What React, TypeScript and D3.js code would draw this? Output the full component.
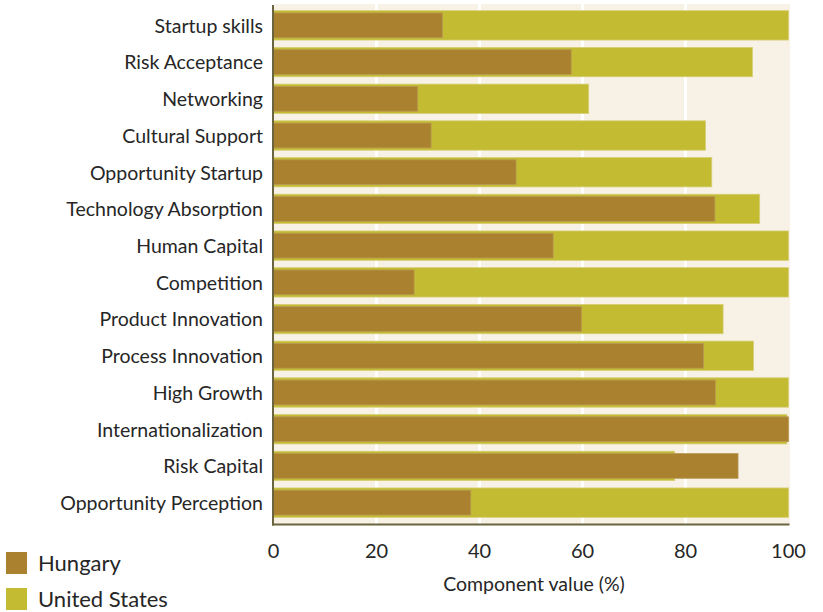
import React from "react";
import * as d3 from "d3";

const categories = [
  "Startup skills",
  "Risk Acceptance",
  "Networking",
  "Cultural Support",
  "Opportunity Startup",
  "Technology Absorption",
  "Human Capital",
  "Competition",
  "Product Innovation",
  "Process Innovation",
  "High Growth",
  "Internationalization",
  "Risk Capital",
  "Opportunity Perception",
];

const hungary = [32.8, 57.8, 28.0, 30.6, 47.1, 85.7, 54.3, 27.3, 59.8, 83.5, 85.8, 100, 90.2, 38.3];
const unitedStates = [100, 93.0, 61.2, 83.9, 85.1, 94.4, 100, 100, 87.3, 93.2, 100, 99.7, 77.9, 100];

const xTicks = [0, 20, 40, 60, 80, 100];
const seriesNames = ["Hungary", "United States"];
const seriesColors = ["#aa812e", "#c3bb31"];

const W = 823;
const H = 612;
const FONT = "Lato, 'Open Sans', sans-serif";

export default function App() {
  const x = d3.scaleLinear().domain([0, 100]).range([273.5, 788.5]);
  const y = d3.scaleBand<string>().domain(categories).range([7, 521]).paddingInner(0.2).paddingOuter(0.1);
  const bw = y.bandwidth();
  const plotTop = 4;
  const plotBottom = 524.5;

  return (
    <svg width={W} height={H} style={{ position: "absolute", left: 0, top: 0 }} fontFamily={FONT}>
      <rect x={x(0)} y={plotTop} width={x(100) - x(0) + 1.5} height={plotBottom - plotTop} fill="#f8f1e6" />
      {xTicks.slice(1, -1).map((t) => (
        <line key={t} x1={x(t)} x2={x(t)} y1={plotTop} y2={plotBottom} stroke="#ffffff" strokeWidth={3} />
      ))}
      {categories.map((c, i) => (
        <g key={c}>
          <rect
            x={x(0)}
            y={y(c)!}
            width={x(unitedStates[i]) - x(0)}
            height={bw}
            fill={seriesColors[1]}
            stroke="#d6cf77"
            strokeWidth={0.8}
          />
          <rect
            x={x(0)}
            y={y(c)! + 2.3}
            width={x(hungary[i]) - x(0)}
            height={bw - 4.6}
            fill={seriesColors[0]}
            stroke="#b99a55"
            strokeWidth={0.8}
          />
        </g>
      ))}
      <line x1={x(0) - 0.5} x2={x(0) - 0.5} y1={plotTop + 1} y2={plotBottom + 1} stroke="#6a6540" strokeWidth={2} />
      <line x1={x(0) - 1.5} x2={x(100) + 1} y1={plotBottom} y2={plotBottom} stroke="#6a6540" strokeWidth={2} />
      {categories.map((c) => (
        <text
          key={c}
          x={263}
          y={y(c)! + bw / 2}
          dy="0.38em"
          textAnchor="end"
          fontSize={19.5}
          fill="#262626"
        >
          {c}
        </text>
      ))}
      {xTicks.map((t) => (
        <text key={t} x={x(t)} y={558} textAnchor="middle" fontSize={20} fill="#262626">
          {t}
        </text>
      ))}
      <text x={534} y={591} textAnchor="middle" fontSize={19.5} fill="#262626">
        Component value (%)
      </text>
      {seriesNames.map((s, i) => (
        <g key={s}>
          <rect x={6} y={552 + i * 36} width={21} height={22} fill={seriesColors[i]} />
          <text x={38} y={571 + i * 36} fontSize={22} fill="#262626">
            {s}
          </text>
        </g>
      ))}
    </svg>
  );
}
